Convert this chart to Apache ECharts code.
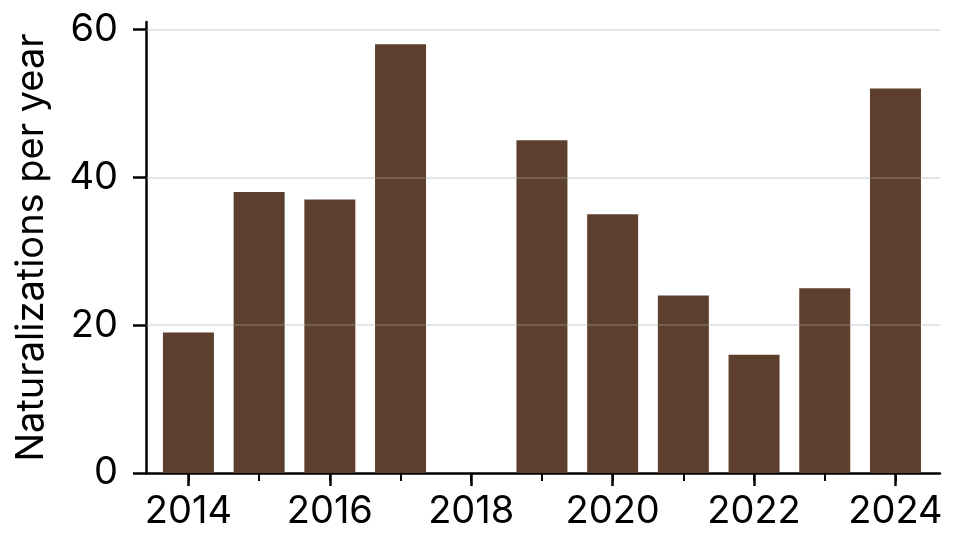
<!DOCTYPE html>
<html>
<head>
<meta charset="utf-8">
<script src="https://cdn.jsdelivr.net/npm/echarts@6/dist/echarts.min.js"></script>
<style>
    html, body { margin: 0; padding: 0; background: #fff; }
    #main { width: 962px; height: 554px; }
</style>
</head>
<body>
<div id="main"></div>
<script>
    var years = [2014, 2015, 2016, 2017, 2018, 2019, 2020, 2021, 2022, 2023, 2024];
    var naturalizations = [19, 38, 37, 58, 0, 45, 35, 24, 16, 25, 52];
    var xLabelYears = [2014, 2016, 2018, 2020, 2022, 2024];
    var yTicks = [0, 20, 40, 60];

    var fontName = 'Inter';

    var barData = [];
    for (var i = 0; i < years.length; i++) {
        barData.push([years[i], naturalizations[i]]);
    }

    var gridLines = [];
    for (var j = 1; j < yTicks.length; j++) {
        gridLines.push({ yAxis: yTicks[j] });
    }

    var chart = echarts.init(document.getElementById('main'));

    var option = {
        animation: false,
        backgroundColor: '#fff',
        grid: { left: 146, right: 22, top: 22, bottom: 81, containLabel: false },
        xAxis: [{
            type: 'value',
            min: 2013.4,
            max: 2024.63,
            axisLine: { show: true, lineStyle: { color: '#000', width: 2.5 } },
            axisTick: { show: true, length: 13, customValues: xLabelYears, lineStyle: { color: '#000', width: 2.5 } },
            axisLabel: {
                customValues: xLabelYears, margin: 20, color: '#000', fontSize: 38, fontFamily: fontName,
                formatter: function (v) { return String(v); }
            },
            splitLine: { show: false }
        }, {
            // minor ticks, every year
            type: 'value',
            position: 'bottom',
            min: 2013.4,
            max: 2024.63,
            axisLine: { show: false },
            axisTick: { show: true, length: 8, customValues: years, lineStyle: { color: '#000', width: 2 } },
            axisLabel: { show: false },
            splitLine: { show: false }
        }],
        yAxis: {
            type: 'value',
            min: 0,
            max: 61,
            name: 'Naturalizations per year',
            nameLocation: 'middle',
            nameGap: 95,
            nameTextStyle: { color: '#000', fontSize: 38, fontFamily: fontName },
            axisLine: { show: true, lineStyle: { color: '#000', width: 2.5 } },
            axisTick: { show: true, length: 13, customValues: yTicks, lineStyle: { color: '#000', width: 2.5 } },
            axisLabel: { customValues: yTicks, margin: 28, color: '#000', fontSize: 38, fontFamily: fontName },
            splitLine: { show: false }
        },
        series: [{
            type: 'bar',
            data: barData,
            barWidth: 51,
            itemStyle: { color: '#5c402d' },
            markLine: {
                silent: true,
                symbol: 'none',
                label: { show: false },
                lineStyle: { color: 'rgba(170,170,170,0.3)', width: 2, type: 'solid' },
                data: gridLines
            }
        }]
    };

    chart.setOption(option);
</script>
</body>
</html>
